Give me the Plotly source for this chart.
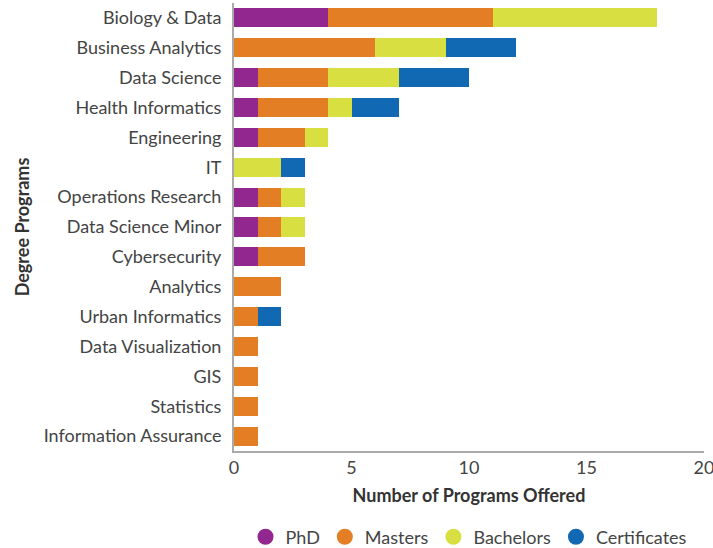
import plotly.graph_objects as go

# Degree programs, top to bottom as in the chart
programs = ["Biology & Data", "Business Analytics", "Data Science", "Health Informatics",
            "Engineering", "IT", "Operations Research", "Data Science Minor",
            "Cybersecurity", "Analytics", "Urban Informatics", "Data Visualization",
            "GIS", "Statistics", "Information Assurance"]

phd = [4, 0, 1, 1, 1, 0, 1, 1, 1, 0, 0, 0, 0, 0, 0]
masters = [7, 6, 3, 3, 2, 0, 1, 1, 2, 2, 1, 1, 1, 1, 1]
bachelors = [7, 3, 3, 1, 1, 2, 1, 1, 0, 0, 0, 0, 0, 0, 0]
certificates = [0, 3, 3, 2, 0, 1, 0, 0, 0, 0, 1, 0, 0, 0, 0]

series = [("PhD", phd, "#92278F"),
          ("Masters", masters, "#E47E24"),
          ("Bachelors", bachelors, "#D7E040"),
          ("Certificates", certificates, "#1269B3")]

FONT = "Lato"

fig = go.Figure()
for name, vals, color in series:
    fig.add_trace(go.Bar(y=programs, x=vals, orientation="h", name=name,
                         marker=dict(color=color, line_width=0),
                         showlegend=False))
    # circle markers for the legend
    fig.add_trace(go.Scatter(x=[None], y=[None], mode="markers", name=name,
                             marker=dict(color=color, size=16, symbol="circle")))

fig.update_layout(
    barmode="stack",
    bargap=0.36,
    width=713, height=548,
    margin=dict(l=234, r=9, t=3, b=97, autoexpand=False),
    plot_bgcolor="white", paper_bgcolor="white",
    font=dict(family=FONT, size=18, color="#444444"),
    legend=dict(orientation="h", x=0.5, xanchor="center",
                yref="container", y=0.02, yanchor="middle",
                traceorder="normal", font=dict(size=18, color="#444444"),
                itemwidth=30, tracegroupgap=0),
)
fig.update_yaxes(categoryorder="array", categoryarray=programs, autorange="reversed",
                 showline=True, linecolor="#AAAAAA", linewidth=2, ticks="",
                 ticklabelstandoff=7, showgrid=False, automargin=False,
                 title=dict(text="<b>Degree Programs</b>", font=dict(size=18, color="#333333"),
                            standoff=9))
fig.update_xaxes(range=[0, 20], dtick=5, showline=True, linecolor="#AAAAAA", linewidth=1.5,
                 showgrid=False, zeroline=False, ticks="", automargin=False,
                 ticklabelstandoff=0, ticklabeloverflow="allow",
                 title=dict(text="<b>Number of Programs Offered</b>",
                            font=dict(size=18, color="#333333"), standoff=12))

# drop the default page margin so the figure sits at the window's corner
fig.write_html("out.html", config={"displayModeBar": False},
               post_script="document.body.style.margin='0';")
